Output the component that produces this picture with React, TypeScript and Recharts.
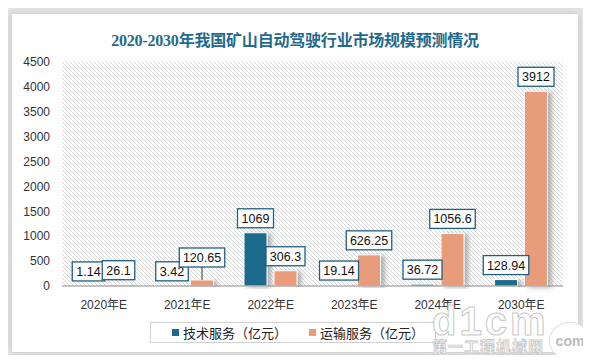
import { BarChart, Bar, XAxis, YAxis, CartesianGrid, LabelList } from 'recharts';

const categories = ['2020年E', '2021年E', '2022年E', '2023年E', '2024年E', '2030年E'];
const techService = [1.14, 3.42, 1069, 19.14, 36.72, 128.94];
const transportService = [26.1, 120.65, 306.3, 626.25, 1056.6, 3912];
const yTicks = [0, 500, 1000, 1500, 2000, 2500, 3000, 3500, 4000, 4500];

const BLUE = '#1d6a8c';
const ORANGE = '#e89c7b';
const LABEL_BORDER = '#1f5f7f';
const FONT = '"Liberation Sans", "Noto Sans CJK SC", sans-serif';

// extra lift for labels that Excel pushed up (with leader line)
const transportLift = [0, 8, 0, 0, 0, 0];

const data = categories.map((name, i) => ({
  name,
  tech: techService[i],
  transport: transportService[i],
}));

function textWidth(s: string) {
  let w = 0;
  for (const ch of s) w += ch === '.' ? 3 : 6.5;
  return w + 10;
}

function makeLabel(lifts: number[]) {
  return (props: any) => {
    const { x, y, width, value, index } = props;
    const lift = lifts[index] ?? 0;
    const txt = String(value);
    const w = textWidth(txt);
    const cx = Number(x) + Number(width) / 2;
    const bottom = Number(y) - 5 - lift;
    const h = 19;
    return (
      <g>
        {lift > 0 && <line x1={cx} y1={bottom} x2={cx} y2={Number(y)} stroke="#333" strokeWidth={1} />}
        <rect x={cx - w / 2} y={bottom - h} width={w} height={h} fill="#fff" stroke={LABEL_BORDER} strokeWidth={1.3} />
        <text x={cx} y={bottom - 5} textAnchor="middle" fontSize={12.5} fill="#111" fontFamily={FONT}>
          {txt}
        </text>
      </g>
    );
  };
}

function ShadowBar(props: any) {
  const { x, y, width, height, fill } = props;
  if (!height || height <= 0) return null;
  return (
    <rect x={x} y={y} width={width} height={height} fill={fill} stroke="#fff" strokeWidth={1} filter="url(#barShadow)" />
  );
}

export default function App() {
  return (
    <div style={{ position: 'relative', width: 591, height: 363, margin: -8, background: '#ececec', overflow: 'hidden', fontFamily: FONT }}>
      <div
        style={{
          position: 'absolute',
          left: 12,
          top: 14,
          width: 566,
          height: 338,
          background: '#fff',
          boxShadow: '0 0 10px 4px rgba(0,0,0,0.12)',
        }}
      />
      <div
        style={{
          position: 'absolute',
          left: 12,
          width: 566,
          top: 27,
          textAlign: 'center',
          fontSize: 16,
          fontWeight: 'bold',
          color: '#1f6b8e',
          fontFamily: '"Liberation Serif", "Noto Sans CJK SC", serif',
          letterSpacing: -0.2,
        }}
      >
        2020-2030年我国矿山自动驾驶行业市场规模预测情况
      </div>
      <div style={{ position: 'absolute', left: 0, top: 0 }}>
        <BarChart
          width={591}
          height={363}
          data={data}
          margin={{ top: 62, right: 28, bottom: 47, left: 12 }}
          barSize={23}
          barGap={7}
        >
          <defs>
            <pattern id="hatch" patternUnits="userSpaceOnUse" width={4} height={4}>
              <path d="M-1,-1 L5,5 M3,-1 L5,1 M-1,3 L1,5" stroke="#d6d6d6" strokeWidth={1} />
            </pattern>
            <filter id="barShadow" x="-20%" y="-5%" width="160%" height="110%">
              <feDropShadow dx={4} dy={1} stdDeviation={2.5} floodColor="#777" floodOpacity={0.55} />
            </filter>
          </defs>
          <CartesianGrid horizontal={false} vertical={false} fill="url(#hatch)" stroke="none" />
          <XAxis
            dataKey="name"
            height={30}
            tickLine={false}
            tickSize={0}
            tickMargin={14}
            axisLine={{ stroke: '#8c8c8c', strokeWidth: 1 }}
            tick={{ fontSize: 12, fill: '#333', fontFamily: FONT }}
            interval={0}
          />
          <YAxis
            width={50}
            domain={[0, 4500]}
            ticks={yTicks}
            axisLine={false}
            tickLine={false}
            tickSize={0}
            tickMargin={12}
            tick={{ fontSize: 12, fill: '#333', fontFamily: FONT }}
            interval={0}
          />
          <Bar dataKey="tech" fill={BLUE} isAnimationActive={false} shape={<ShadowBar />}>
            <LabelList dataKey="tech" content={makeLabel([0, 0, 0, 0, 0, 0])} />
          </Bar>
          <Bar dataKey="transport" fill={ORANGE} isAnimationActive={false} shape={<ShadowBar />}>
            <LabelList dataKey="transport" content={makeLabel(transportLift)} />
          </Bar>
        </BarChart>
      </div>
      <div
        style={{
          position: 'absolute',
          left: 150,
          top: 322,
          width: 286,
          height: 21,
          border: '1px solid #d0d0d0',
          display: 'flex',
          alignItems: 'center',
          fontSize: 13,
          color: '#222',
          boxSizing: 'border-box',
        }}
      >
        <span style={{ display: 'inline-block', width: 7, height: 7, background: BLUE, marginLeft: 21, marginRight: 4 }} />
        <span>技术服务（亿元）</span>
        <span style={{ display: 'inline-block', width: 7, height: 7, background: ORANGE, marginLeft: 22, marginRight: 4 }} />
        <span>运输服务（亿元）</span>
      </div>
      <div style={{ position: 'absolute', left: 432, top: 306, pointerEvents: 'none' }}>
        <div
          style={{
            fontSize: 40,
            fontWeight: 'bold',
            fontFamily: '"Liberation Sans", sans-serif',
            color: '#fff',
            WebkitTextStroke: '1px #c8c8c8',
            lineHeight: '30px',
            height: 30,
            letterSpacing: 3,
          }}
        >
          d1cm
        </div>
        <div
          style={{
            fontSize: 15,
            fontWeight: 'bold',
            color: '#fff',
            WebkitTextStroke: '0.8px #c8c8c8',
            letterSpacing: 1,
            lineHeight: '18px',
            marginTop: 2,
          }}
        >
          第一工程机械网
        </div>
        <div
          style={{
            position: 'absolute',
            left: 117,
            top: 16,
            width: 40,
            height: 36,
            borderRadius: '50%',
            background: '#fff',
            border: '1px solid #ddd',
            color: '#bbb',
            fontWeight: 'bold',
            fontSize: 14,
            display: 'flex',
            alignItems: 'center',
            justifyContent: 'center',
          }}
        >
          com
        </div>
      </div>
    </div>
  );
}
